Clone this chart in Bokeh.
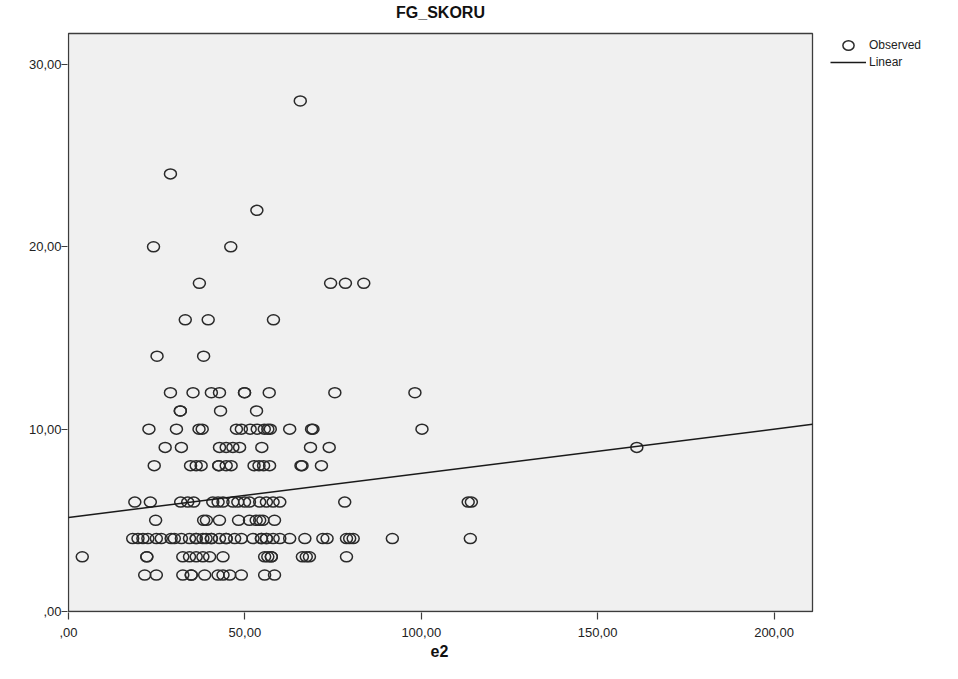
from bokeh.plotting import figure
from bokeh.models import (Range1d, FixedTicker, Legend, LegendItem,
                          ColumnDataSource, BoxAnnotation, Label, Title)
from bokeh.embed import file_html
from bokeh.resources import INLINE

# Observed cases: e2 (x) and FG_SKORU (y), listed by score level
e2 = [
    65.7,                                   # 28
    28.9,                                   # 24
    53.4,                                   # 22
    24.1, 46.0,                             # 20
    37.1, 74.3, 78.5, 83.7,                 # 18
    33.1, 39.6, 58.1,                       # 16
    25.1, 38.3,                             # 14
    28.9, 35.3, 40.5, 42.8, 49.9, 49.9, 56.9, 75.5, 98.2,   # 12
    31.7, 31.7, 43.1, 53.3,                 # 11
    22.8, 30.6, 37.0, 37.9, 47.6, 49.0, 51.5, 53.5, 55.5, 56.5, 57.2,
    62.7, 68.9, 69.3, 100.2,                # 10
    27.4, 32.0, 42.8, 44.7, 46.6, 48.5, 54.8, 68.6, 73.9, 161.1,   # 9
    24.3, 34.6, 36.2, 37.6, 42.6, 42.6, 44.7, 46.1, 52.6, 54.0, 55.3,
    57.0, 65.9, 66.2, 71.7,                 # 8
    18.8, 23.2, 31.8, 33.8, 35.5, 40.9, 42.4, 43.8, 46.6, 48.0, 49.9,
    51.3, 54.2, 56.1, 58.0, 59.9, 78.3, 113.3, 114.2,   # 6
    24.7, 38.3, 39.1, 42.8, 48.2, 51.3, 53.2, 54.2, 55.1, 58.4,   # 5
    18.2, 19.7, 21.1, 22.5, 24.9, 26.3, 29.1, 30.0, 32.0, 34.3, 36.2,
    36.2, 38.1, 39.0, 40.5, 40.5, 42.8, 44.7, 44.7, 47.1, 49.0, 52.3,
    54.7, 54.7, 56.1, 56.1, 58.0, 59.9, 62.7, 67.0, 72.1, 73.3, 78.8,
    79.7, 80.7, 91.8, 113.9,                # 4
    3.9, 22.2, 22.2, 32.4, 34.3, 36.2, 38.1, 40.0, 43.8, 55.6, 56.5,
    57.5, 57.5, 66.3, 67.4, 68.3, 78.8,     # 3
    21.6, 24.9, 32.4, 34.8, 34.8, 38.6, 42.4, 43.8, 45.7, 49.0, 55.6, 58.4,  # 2
]

fg_skoru = (
    [28] + [24] + [22] + [20] * 2 + [18] * 4 + [16] * 3 + [14] * 2
    + [12] * 9 + [11] * 4 + [10] * 15 + [9] * 10 + [8] * 15 + [6] * 19
    + [5] * 10 + [4] * 37 + [3] * 17 + [2] * 12
)

# Linear fit shown over the observed cases
fit_intercept = 5.16
fit_slope = 0.0242

x_ticks = [0, 50, 100, 150, 200]
x_tick_labels = [",00", "50,00", "100,00", "150,00", "200,00"]
y_ticks = [0, 10, 20, 30]
y_tick_labels = [",00", "10,00", "20,00", "30,00"]

# extent of the shaded plot area
x_max = 210.9
y_max = 31.7

FONT = "Liberation Sans"

# Page geometry (px): the frame covers the whole canvas except the axis
# bands, so the legend and title can sit in the white margin beside the
# shaded plot area.
W, H = 958, 679
LEFT, BOTTOM = 67, 67
AREA_W, AREA_H = 744, 578          # shaded area size in px
sx = AREA_W / x_max                # px per x unit
sy = AREA_H / y_max                # px per y unit
frame_w = W - LEFT
frame_h = H - BOTTOM

p = figure(
    width=W, height=H,
    x_range=Range1d(-1 / sx, (frame_w - 1) / sx),
    y_range=Range1d(-1 / sy, (frame_h - 1) / sy),
    output_backend="svg", toolbar_location=None,
    min_border_left=LEFT, min_border_right=0,
    min_border_top=0, min_border_bottom=BOTTOM,
)
p.background_fill_color = "white"
p.border_fill_color = "white"
p.outline_line_color = None
p.xgrid.visible = False
p.ygrid.visible = False

# shaded plot area with its frame
p.add_layout(BoxAnnotation(
    left=0, right=x_max, bottom=0, top=y_max,
    fill_color="#f0f0f0", fill_alpha=1.0,
    line_color="#3c3c3c", line_alpha=1.0, line_width=1.3,
    level="underlay",
))

src = ColumnDataSource(dict(x=e2, y=fg_skoru))
pts = p.ellipse(x="x", y="y", width=12, height=10,
                width_units="screen", height_units="screen",
                fill_color=None, line_color="#2a2a2a", line_width=1.5,
                source=src)

x_line = [0, x_max]
y_line = [fit_intercept + fit_slope * v for v in x_line]
fit = p.line(x_line, y_line, line_color="#1a1a1a", line_width=1.5)

for ax, ticks, labels in ((p.xaxis[0], x_ticks, x_tick_labels),
                          (p.yaxis[0], y_ticks, y_tick_labels)):
    ax.ticker = FixedTicker(ticks=ticks)
    ax.major_label_overrides = {t: l for t, l in zip(ticks, labels)}
    ax.minor_tick_line_color = None
    ax.axis_line_color = None
    ax.major_tick_in = 0
    ax.major_tick_out = 7
    ax.major_tick_line_color = "#3c3c3c"
    ax.major_tick_line_width = 1.2
    ax.major_label_text_font = FONT
    ax.major_label_text_font_size = "13px"
    ax.major_label_text_color = "#222222"

p.yaxis.major_tick_out = 6
p.xaxis.major_label_standoff = 8
p.yaxis.major_label_standoff = 0

# x axis name, centred under the shaded area
p.add_layout(Title(
    text="e2", align="left", offset=AREA_W / 2 - 9,
    standoff=10, vertical_align="top",
    text_font=FONT, text_font_size="16px", text_font_style="bold",
    text_color="#111111",
), "below")

p.add_layout(Label(
    x=x_max / 2, y=(frame_h - 1 - 12) / sy, text="FG_SKORU",
    text_align="center", text_baseline="middle",
    text_font=FONT, text_font_size="16px", text_font_style="bold",
    text_color="#111111",
))

legend = Legend(
    items=[LegendItem(label="Observed", renderers=[pts]),
           LegendItem(label="Linear", renderers=[fit])],
    location=(830 - LEFT, frame_h - 38 - 31),
    margin=0, padding=0, spacing=3,
    glyph_width=36, glyph_height=14, label_height=14,
    label_standoff=3,
    label_text_font=FONT, label_text_font_size="12px",
    label_text_color="#222222",
    border_line_color=None, background_fill_alpha=0,
)
p.add_layout(legend)

open("out.html", "w").write(file_html(p, INLINE))
